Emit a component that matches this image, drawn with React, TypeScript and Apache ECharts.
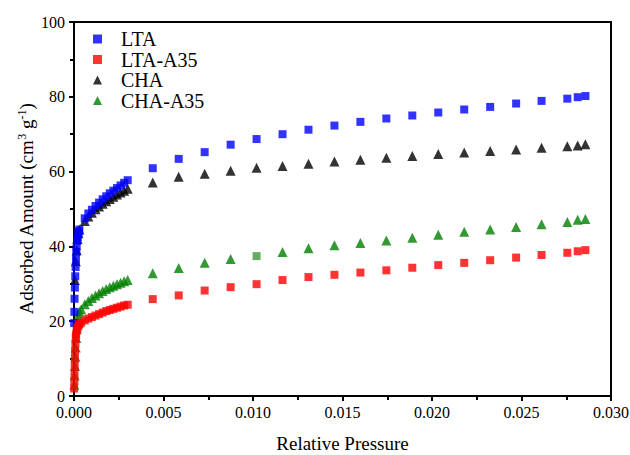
import React, { useEffect, useRef } from "react";
import * as echarts from "echarts";

const ltaX = [0.00001, 0.00002, 0.00003, 0.00005, 0.00007, 0.00009, 0.00011, 0.00013, 0.00015, 0.00018, 0.00021, 0.00024, 0.00027, 0.0003,
  0.0006, 0.0008, 0.001, 0.0012, 0.0014, 0.0016, 0.0018, 0.002, 0.0022, 0.0024, 0.0026, 0.0028, 0.003,
  0.0044, 0.00585, 0.0073, 0.00875, 0.0102, 0.01165, 0.0131, 0.01455, 0.016, 0.01745, 0.0189, 0.02035, 0.0218, 0.02325, 0.0247, 0.02612, 0.02756, 0.02814, 0.02857];
const ltaY = [19.5, 22.5, 26, 29, 32, 34.5, 36.5, 38.5, 40, 41.5, 42.5, 43.5, 44, 44.5,
  47.5, 48.8, 49.8, 50.8, 51.7, 52.6, 53.4, 54.2, 54.9, 55.6, 56.3, 57.0, 57.7,
  60.9, 63.4, 65.2, 67.2, 68.7, 70.0, 71.2, 72.3, 73.3, 74.2, 75.0, 75.8, 76.6, 77.3, 78.2, 78.9, 79.5, 79.9, 80.2];

const ltaA35X = [0.00001, 0.00002, 0.00003, 0.00004, 0.00005, 0.00006, 0.00008, 0.0001, 0.00012, 0.00015, 0.0002, 0.00025, 0.0003,
  0.0004, 0.0006, 0.0008, 0.001, 0.0012, 0.0014, 0.0016, 0.0018, 0.002, 0.0022, 0.0024, 0.0026, 0.0028, 0.003,
  0.0044, 0.00585, 0.0073, 0.00875, 0.0102, 0.01165, 0.0131, 0.01455, 0.016, 0.01745, 0.0189, 0.02035, 0.0218, 0.02325, 0.0247, 0.02612, 0.02756, 0.02814, 0.02857];
const ltaA35Y = [2, 4, 6, 8, 10, 12, 14, 15.5, 16.5, 17.5, 18.3, 18.8, 19.2,
  19.6, 20.2, 20.7, 21.1, 21.5, 21.9, 22.3, 22.7, 23.0, 23.3, 23.6, 23.9, 24.2, 24.4,
  25.9, 26.9, 28.2, 29.1, 29.9, 31.0, 31.8, 32.4, 33.0, 33.6, 34.3, 35.0, 35.6, 36.3, 37.0, 37.7, 38.3, 38.7, 39.0];

const chaX = [0.00005, 0.0001, 0.00015, 0.0002, 0.00025, 0.0003,
  0.0006, 0.0008, 0.001, 0.0012, 0.0014, 0.0016, 0.0018, 0.002, 0.0022, 0.0024, 0.0026, 0.0028, 0.003,
  0.0044, 0.00585, 0.0073, 0.00875, 0.0102, 0.01165, 0.0131, 0.01455, 0.016, 0.01745, 0.0189, 0.02035, 0.0218, 0.02325, 0.0247, 0.02612, 0.02756, 0.02814, 0.02857];
const chaY = [31, 36, 39, 42, 43.5, 44.5,
  46.8, 48.0, 49.0, 49.9, 50.7, 51.4, 52.1, 52.7, 53.3, 53.9, 54.4, 54.9, 55.4,
  57.1, 58.6, 59.4, 60.2, 61.0, 61.5, 62.1, 62.7, 63.2, 63.7, 64.2, 64.7, 65.1, 65.5, 65.9, 66.4, 66.8, 67.0, 67.3];

const chaA35X = [0.00002, 0.00004, 0.00006, 0.00008, 0.0001, 0.00013, 0.00016, 0.0002, 0.00025, 0.0003,
  0.0004, 0.0006, 0.0008, 0.001, 0.0012, 0.0014, 0.0016, 0.0018, 0.002, 0.0022, 0.0024, 0.0026, 0.0028, 0.003,
  0.0044, 0.00585, 0.0073, 0.00875, 0.0102, 0.01165, 0.0131, 0.01455, 0.016, 0.01745, 0.0189, 0.02035, 0.0218, 0.02325, 0.0247, 0.02612, 0.02756, 0.02814, 0.02857];
const chaA35Y = [3, 5.5, 8, 10.5, 13, 15.5, 18, 20, 21.5, 22.5,
  23.2, 24.5, 25.4, 26.2, 26.9, 27.5, 28.1, 28.6, 29.1, 29.5, 29.9, 30.3, 30.7, 31.0,
  32.8, 34.2, 35.6, 36.6, 37.4, 38.5, 39.5, 40.3, 40.9, 41.6, 42.3, 43.1, 43.9, 44.5, 45.2, 45.9, 46.5, 47.1, 47.3];
// index of the one CHA-A35 point drawn as a lighter square in the reference
const chaA35SquareIndex = 28;

const xTicks = [0, 0.005, 0.01, 0.015, 0.02, 0.025, 0.03];
const yTicks = [0, 20, 40, 60, 80, 100];

const FONT = "Liberation Serif";

export default function App() {
  const ref = useRef<HTMLDivElement>(null);
  useEffect(() => {
    if (!ref.current) return;
    const chart = echarts.init(ref.current, null, { renderer: "svg" });
    const pairs = (xs: number[], ys: number[]) => xs.map((x, i) => [x, ys[i]]);
    const chaA35Data: any[] = pairs(chaA35X, chaA35Y).map((p, i) =>
      i === chaA35SquareIndex
        ? { value: p, symbol: "rect", symbolSize: 8, itemStyle: { color: "#3a9a3a" } }
        : p
    );
    chart.setOption({
      animation: false,
      textStyle: { fontFamily: FONT },
      grid: {
        left: 74,
        right: 19,
        top: 22,
        bottom: 59,
        show: true,
        borderColor: "#000",
        borderWidth: 2,
        outerBoundsMode: "none",
        containLabel: false,
      },
      legend: {
        orient: "vertical",
        left: 88,
        top: 24,
        itemWidth: 9,
        itemHeight: 9,
        itemGap: 0.5,
        data: ["LTA", "LTA-A35", "CHA", "CHA-A35"],
        textStyle: { fontFamily: FONT, fontSize: 20, color: "#000", padding: [0, 0, 0, 14], lineHeight: 20 },
      },
      xAxis: {
        type: "value",
        min: xTicks[0],
        max: xTicks[xTicks.length - 1],
        interval: 0.005,
        name: "Relative Pressure",
        nameLocation: "middle",
        nameGap: 38,
        nameTextStyle: { fontFamily: FONT, fontSize: 19, color: "#000" },
        axisLine: { lineStyle: { color: "#000", width: 2 } },
        axisTick: { show: true, inside: false, length: 5, lineStyle: { color: "#000", width: 2 } },
        minorTick: { show: true, splitNumber: 2, length: 4, lineStyle: { color: "#000", width: 2 } },
        splitLine: { show: false },
        axisLabel: {
          color: "#000",
          fontFamily: FONT,
          fontSize: 16,
          margin: 8,
          formatter: (v: number) => v.toFixed(3),
        },
      },
      yAxis: {
        type: "value",
        min: yTicks[0],
        max: yTicks[yTicks.length - 1],
        interval: 20,
        name: "{n|Adsorbed Amount (cm}{s|3}{n| g}{s|-1}{n|)}",
        nameLocation: "middle",
        nameGap: 37,
        nameMoveOverlap: false,
        nameTextStyle: {
          fontFamily: FONT,
          fontSize: 19,
          color: "#000",
          rich: {
            n: { fontFamily: FONT, fontSize: 19, color: "#000" },
            s: { fontFamily: FONT, fontSize: 12, color: "#000", padding: [0, 0, 9, 0] },
          },
        },
        axisLine: { lineStyle: { color: "#000", width: 2 } },
        axisTick: { show: true, inside: false, length: 5, lineStyle: { color: "#000", width: 2 } },
        minorTick: { show: true, splitNumber: 2, length: 4, lineStyle: { color: "#000", width: 2 } },
        splitLine: { show: false },
        axisLabel: { color: "#000", fontFamily: FONT, fontSize: 16, margin: 9 },
      },
      series: [
        {
          name: "CHA",
          type: "scatter",
          symbol: "triangle",
          symbolSize: 10,
          itemStyle: { color: "#000000" },
          data: pairs(chaX, chaY),
        },
        {
          name: "CHA-A35",
          type: "scatter",
          symbol: "triangle",
          symbolSize: 10,
          itemStyle: { color: "#008000" },
          data: chaA35Data,
        },
        {
          name: "LTA",
          type: "scatter",
          symbol: "rect",
          symbolSize: 8,
          itemStyle: { color: "#0000ff" },
          data: pairs(ltaX, ltaY),
        },
        {
          name: "LTA-A35",
          type: "scatter",
          symbol: "rect",
          symbolSize: 8,
          itemStyle: { color: "#ff0000" },
          data: pairs(ltaA35X, ltaA35Y),
        },
      ],
    });
    return () => chart.dispose();
  }, []);
  return <div ref={ref} style={{ width: 630, height: 455, position: "absolute", left: 0, top: 0 }} />;
}
